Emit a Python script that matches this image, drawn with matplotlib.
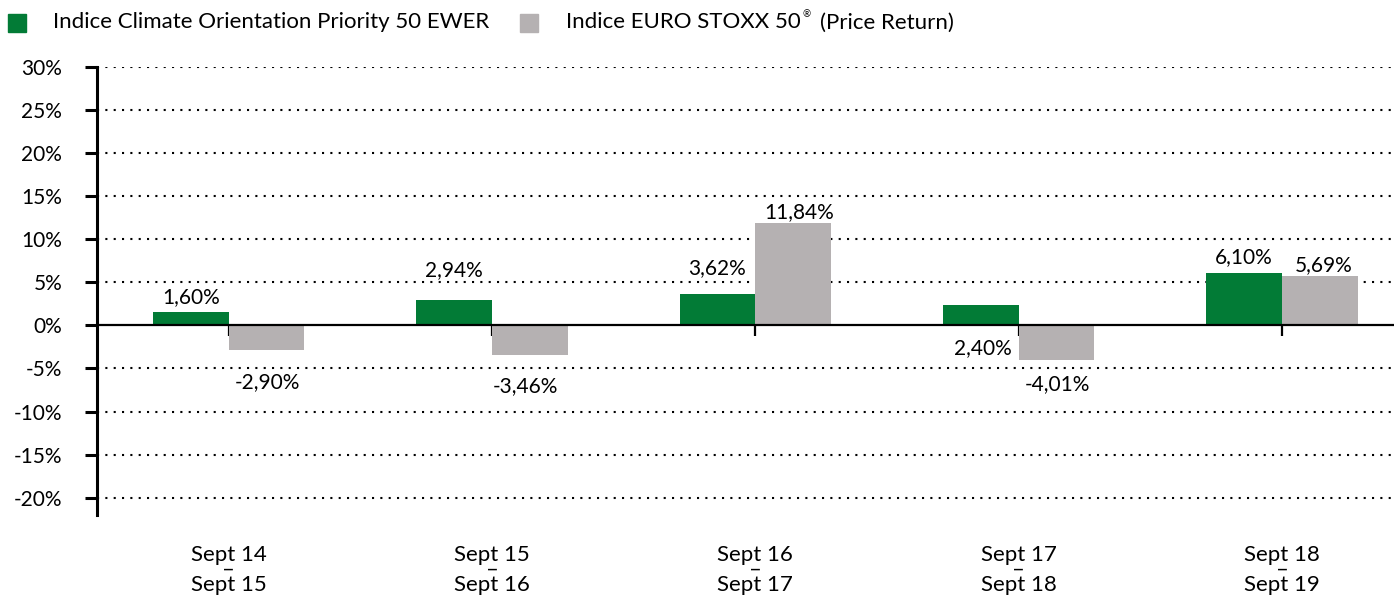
import numpy as np
import matplotlib
matplotlib.use("Agg")
import matplotlib.pyplot as plt
from matplotlib.patches import Rectangle
from matplotlib.transforms import blended_transform_factory

plt.rcParams['font.family'] = ['Lato', 'DejaVu Sans']
plt.rcParams['axes.unicode_minus'] = False

# data
periods_start = ["Sept 14", "Sept 15", "Sept 16", "Sept 17", "Sept 18"]
periods_end = ["Sept 15", "Sept 16", "Sept 17", "Sept 18", "Sept 19"]
climate = [1.60, 2.94, 3.62, 2.40, 6.10]
stoxx = [-2.90, -3.46, 11.84, -4.01, 5.69]
y_ticks = [-20, -15, -10, -5, 0, 5, 10, 15, 20, 25, 30]

green = "#027B36"
grey = "#B5B1B2"
fs = 15      # numbers
fs_txt = 16  # legend / categories

# label placement relative to bar end (pixels: dx, dy up) - as in original
climate_off = [(0, 14), (0, 30), (0, 26), (2, -43), (0, 16)]
stoxx_off = [(1, -32), (-4, -31), (6, 11), (1, -24), (4, 11)]

W, H = 1394, 596
fig = plt.figure(figsize=(W / 100, H / 100), dpi=100)
ax = fig.add_axes([97 / W, 81 / H, 1316.6 / W, 448.3 / H])

x = np.arange(len(climate))
w = 0.287
b1 = ax.bar(x - w / 2, climate, w, color=green, zorder=2)
b2 = ax.bar(x + w / 2, stoxx, w, color=grey, zorder=2)

ax.set_xlim(-0.5, len(climate) - 0.5)
ax.set_ylim(-22, 30)
ax.set_yticks(y_ticks)
ax.set_yticklabels([f"{t}%" for t in y_ticks], fontsize=fs)

for t in y_ticks:
    if t != 0:
        ax.axhline(t, color="black", lw=1.5, ls=(0, (1, 3)), zorder=1)

for s in ["top", "right"]:
    ax.spines[s].set_visible(False)
ax.spines["left"].set_linewidth(2.2)
ax.spines["bottom"].set_position(("data", 0))
ax.spines["bottom"].set_linewidth(1.6)
ax.spines["bottom"].set_zorder(3)
ax.tick_params(axis="y", length=9, width=2.2, pad=16)
ax.tick_params(axis="x", length=8, width=1.6, labelbottom=False)
ax.set_xticks(x)

def fmt(v):
    return f"{v:.2f}%".replace(".", ",")

for bars, vals, offs in [(b1, climate, climate_off), (b2, stoxx, stoxx_off)]:
    for bar, v, (dx, dy) in zip(bars, vals, offs):
        ax.annotate(fmt(v), (bar.get_x() + bar.get_width() / 2, v),
                    xytext=(dx, dy), textcoords="offset pixels",
                    ha="center", va="center", fontsize=fs, zorder=4)

# category labels below the plot
tr = blended_transform_factory(ax.transData, fig.transFigure)
for i, (a, b) in enumerate(zip(periods_start, periods_end)):
    ax.text(i, (H - 570) / H, f"{a}\n–\n{b}", transform=tr, ha="center",
            va="center", fontsize=fs_txt, linespacing=0.67)

# legend
fig.add_artist(Rectangle((8 / W, (H - 31.5) / H), 17.5 / W, 17.5 / H,
                         transform=fig.transFigure, color=green))
fig.text(53 / W, (H - 22.5) / H, "Indice Climate Orientation Priority 50 EWER",
         ha="left", va="center", fontsize=fs_txt)
fig.add_artist(Rectangle((520 / W, (H - 31.5) / H), 17.5 / W, 17.5 / H,
                         transform=fig.transFigure, color=grey))
t1 = fig.text(566 / W, (H - 22.5) / H, "Indice EURO STOXX 50",
              ha="left", va="center", fontsize=fs_txt)
r = fig.canvas.get_renderer()
x1 = t1.get_window_extent(r).x1
fig.text(x1 / W + 2 / W, (H - 15) / H, "®", ha="left", va="center", fontsize=7)
fig.text(x1 / W + 19 / W, (H - 22.5) / H, "(Price Return)",
         ha="left", va="center", fontsize=fs_txt)

fig.savefig("out.png", dpi=100)
